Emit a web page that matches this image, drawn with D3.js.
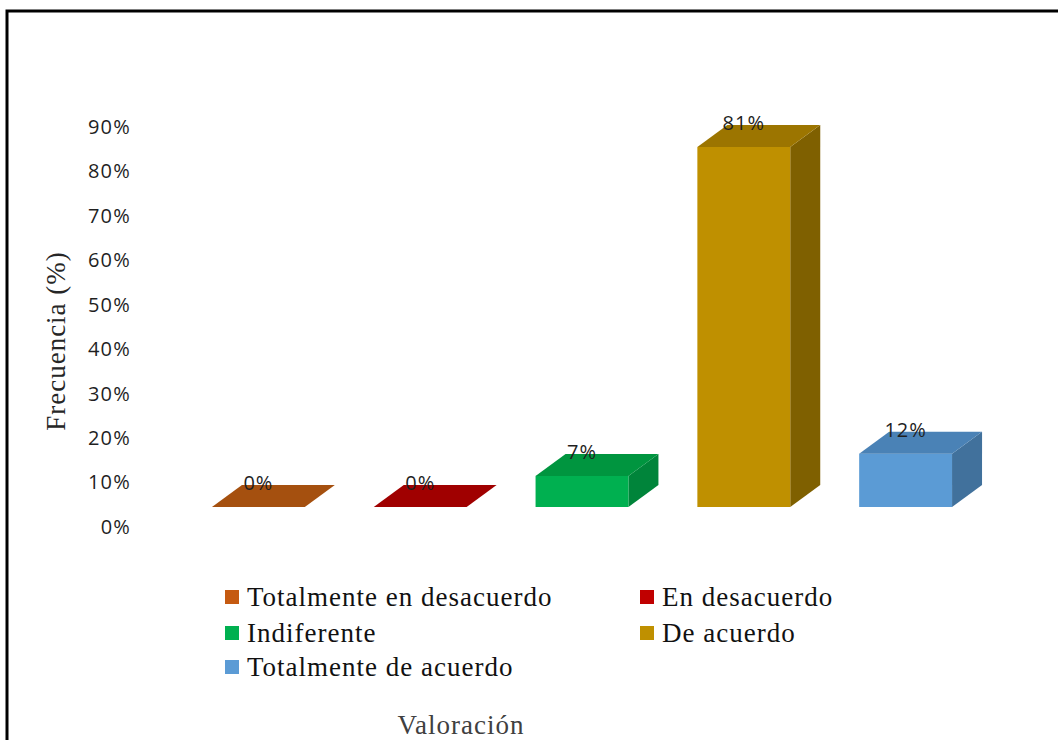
<!DOCTYPE html>
<html>
<head>
<meta charset="utf-8">
<script src="https://cdn.jsdelivr.net/npm/d3@7"></script>
<style>
  html, body { margin: 0; padding: 0; background: #fff; }
  svg { display: block; }
</style>
</head>
<body>
<svg id="chart" width="1058" height="740"></svg>
<script>
// ---- data ----
const categories = ["Totalmente en desacuerdo", "En desacuerdo", "Indiferente", "De acuerdo", "Totalmente de acuerdo"];
const values = [0, 0, 0.07, 0.81, 0.12];
const valueLabels = ["0%", "0%", "7%", "81%", "12%"];
const yTicks = [0, 0.1, 0.2, 0.3, 0.4, 0.5, 0.6, 0.7, 0.8, 0.9];
const frontColors = ["#c55a11", "#c00000", "#00b050", "#bf9000", "#5b9bd5"];
const topColors   = ["#a5500f", "#a00000", "#00953f", "#9c7500", "#4a82b6"];
const sideColors  = ["#8e440c", "#800000", "#00843a", "#7f6000", "#41719c"];
const legendColors = ["#c55a11", "#c00000", "#00b050", "#bf9000", "#5b9bd5"];

const svg = d3.select("#chart");

// frame
svg.append("rect")
  .attr("x", 7).attr("y", 11).attr("width", 1100).attr("height", 800)
  .attr("fill", "none").attr("stroke", "#000").attr("stroke-width", 3);

const x = d3.scaleBand().domain(categories).range([177.5, 986.5])
  .paddingInner(0.426).paddingOuter(0.213);
const y = d3.scaleLinear().domain([0, 0.9]).range([507, 107]);
const dx = 30, dy = 22;

// y axis (labels sit slightly below the front plane in the original)
const yAxis = d3.axisLeft(y).tickValues(yTicks).tickFormat(d3.format(".0%"))
  .tickSize(0).tickPadding(0);
const ag = svg.append("g").attr("transform", "translate(131,20)").call(yAxis);
ag.select(".domain").remove();
ag.selectAll("text")
  .attr("font-family", "'Open Sans', sans-serif")
  .attr("font-size", 20).attr("letter-spacing", 1.2).attr("fill", "#1f1f1f");

// bars
const bars = svg.append("g");
categories.forEach((c, i) => {
  const x0 = x(c), w = x.bandwidth();
  const yb = y(0), yt = y(values[i]);
  const g = bars.append("g");
  if (yb - yt > 0.5) {
    g.append("path")
      .attr("d", `M${x0 + w},${yt} L${x0 + w + dx},${yt - dy} L${x0 + w + dx},${yb - dy} L${x0 + w},${yb} Z`)
      .attr("fill", sideColors[i]);
    g.append("rect")
      .attr("x", x0).attr("y", yt).attr("width", w).attr("height", yb - yt)
      .attr("fill", frontColors[i]);
  }
  g.append("path")
    .attr("d", `M${x0},${yt} L${x0 + dx},${yt - dy} L${x0 + w + dx},${yt - dy} L${x0 + w},${yt} Z`)
    .attr("fill", topColors[i]);
  g.append("text")
    .attr("x", x0 + w / 2).attr("y", yt - dy + 5)
    .attr("text-anchor", "middle")
    .attr("font-family", "'Open Sans', sans-serif")
    .attr("font-size", 20).attr("letter-spacing", 1).attr("fill", "#1f1f1f")
    .text(valueLabels[i]);
});

// y axis title
svg.append("text")
  .attr("transform", "translate(65,341) rotate(-90)")
  .attr("text-anchor", "middle")
  .attr("font-family", "'Liberation Serif', 'Times New Roman', serif")
  .attr("font-size", 27).attr("letter-spacing", 1).attr("fill", "#262626")
  .text("Frecuencia (%)");

// legend
const legendPos = [[225, 590], [640, 590], [225, 626], [640, 626], [225, 660]];
const lg = svg.append("g");
categories.forEach((c, i) => {
  const [lx, ly] = legendPos[i];
  lg.append("rect").attr("x", lx).attr("y", ly).attr("width", 14).attr("height", 14)
    .attr("fill", legendColors[i]);
  lg.append("text").attr("x", lx + 22).attr("y", ly + 16)
    .attr("font-family", "'Liberation Serif', 'Times New Roman', serif")
    .attr("font-size", 27).attr("letter-spacing", 1).attr("fill", "#111")
    .text(c);
});

// x axis title
svg.append("text")
  .attr("x", 461).attr("y", 734).attr("text-anchor", "middle")
  .attr("font-family", "'Liberation Serif', 'Times New Roman', serif")
  .attr("font-size", 27).attr("letter-spacing", 1).attr("fill", "#404040")
  .text("Valoración");
</script>
</body>
</html>
